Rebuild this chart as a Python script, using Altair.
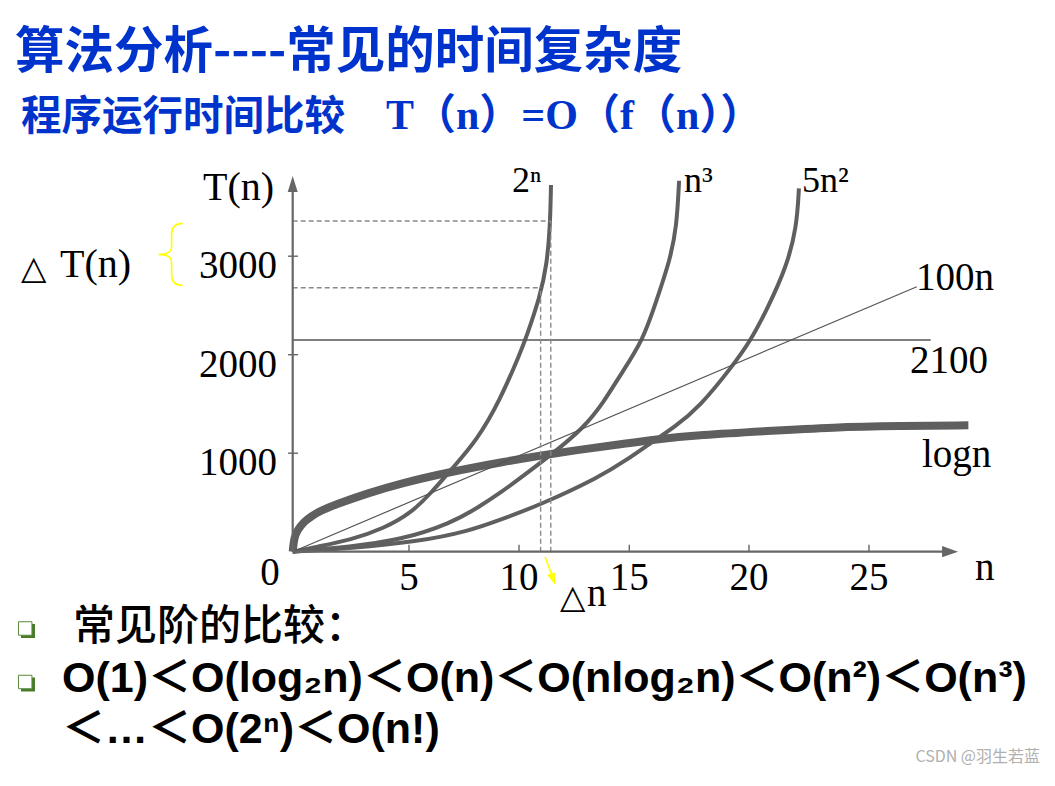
import altair as alt
import pandas as pd

# ---------------- values ----------------
x_ticks = [5, 10, 15, 20, 25]
x_tick_labels = ["5", "10", "15", "20", "25"]
y_ticks = [1000, 2000, 3000]
y_tick_labels = ["1000", "2000", "3000"]

curve_2n_x = [0, 1.06, 2.49, 3.93, 5.08, 5.99, 6.90, 8.10, 9.14, 10.05, 10.35, 10.95, 11.26, 11.41, 11.45]
curve_2n_y = [0, 51, 119, 237, 390, 593, 829, 1134, 1540, 2014, 2190, 2589, 2911, 3299, 3723]

curve_n3_x = [0, 2.49, 4.64, 6.90, 8.23, 9.32, 9.74, 11.55, 12.91, 13.82, 14.58, 15.58, 16.14, 16.70, 16.98, 17.08]
curve_n3_y = [0, 51, 119, 288, 460, 626, 694, 999, 1253, 1510, 1790, 2149, 2555, 2961, 3299, 3766]

curve_5n2_x = [0, 2.49, 5.38, 7.65, 9.32, 10.95, 13.67, 14.88, 16.07, 16.84, 17.95, 19.34, 20.04, 20.74, 21.57, 21.99, 22.08]
curve_5n2_y = [0, 35, 102, 203, 339, 474, 761, 931, 1134, 1256, 1472, 1895, 2132, 2454, 2893, 3299, 3689]

curve_logn_x = [0, 0.06, 0.20, 0.49, 0.77, 1.20, 1.78, 3.21, 4.64, 6.90, 9.32, 11.55, 14.58, 16.07, 17.95, 20.74, 23.51, 26.29, 29.14]
curve_logn_y = [0, 139, 220, 305, 355, 416, 474, 593, 694, 812, 914, 999, 1090, 1141, 1185, 1225, 1263, 1276, 1283]

line_100n_n = [0, 26.99]
line_100n_T = [0, 2690]

level_2100_T = 2149
level_2100_nend = 27.57

delta_T = [2680, 3357]      # dashed horizontal levels
delta_T_nend = [11.0, 11.45]
delta_n = [10.98, 11.44]    # dashed vertical positions

# ---------------- styling ----------------
GRAY = "#5f5f5f"
AXIS = "#666666"
BLUE = "#0033cc"
SERIF = "Liberation Serif, Times New Roman, serif"
SERIF_CJK = "Liberation Serif, Noto Sans CJK SC, serif"
CJK = "Noto Sans CJK SC, sans-serif"
SANS_CJK = "Liberation Sans, Noto Sans CJK SC, sans-serif"
DEJAVU = "DejaVu Sans"

W, H = 1037, 762
XS = alt.Scale(domain=[-12.24, 0, 5, 10, 15, 20, 25, 32.333],
               range=[0, 284.7, 401, 511, 621.3, 741, 861, 1037],
               nice=False, zero=False)
YS = alt.Scale(domain=[5519.80 - H / 0.0985, 5519.80], nice=False, zero=False)


def X(f):
    return alt.X(f, type="quantitative", scale=XS, axis=None)


def Y(f):
    return alt.Y(f, type="quantitative", scale=YS, axis=None)


layers = []

# --- curves ---
rows = []
for name, xs, ys in [("2n", curve_2n_x, curve_2n_y),
                     ("n3", curve_n3_x, curve_n3_y),
                     ("5n2", curve_5n2_x, curve_5n2_y)]:
    for a, b in zip(xs, ys):
        rows.append({"curve": name, "n": a, "T": b})
thin_df = pd.DataFrame(rows)
layers.append(alt.Chart(thin_df).mark_line(color=GRAY, strokeWidth=4, interpolate="basis")
              .encode(x=X("n"), y=Y("T"), detail="curve:N"))

logn_df = pd.DataFrame({"n": curve_logn_x, "T": curve_logn_y})
layers.append(alt.Chart(logn_df).mark_line(color=GRAY, strokeWidth=8, interpolate="basis", strokeCap="butt")
              .encode(x=X("n"), y=Y("T")))

# --- 100n straight line ---
df100 = pd.DataFrame({"n": [line_100n_n[0]], "T": [line_100n_T[0]],
                      "n2": [line_100n_n[1]], "T2": [line_100n_T[1]]})
layers.append(alt.Chart(df100).mark_rule(color="#555555", strokeWidth=1.2)
              .encode(x=X("n"), y=Y("T"), x2="n2", y2="T2"))

# --- 2100 level ---
df2100 = pd.DataFrame({"n": [0], "n2": [level_2100_nend], "T": [level_2100_T]})
layers.append(alt.Chart(df2100).mark_rule(color="#555555", strokeWidth=1.4)
              .encode(x=X("n"), x2="n2", y=Y("T")))

# --- dashed guides ---
dh = pd.DataFrame({"n": [0, 0], "n2": delta_T_nend, "T": delta_T})
layers.append(alt.Chart(dh).mark_rule(color="#8a8a8a", strokeWidth=1.4, strokeDash=[5, 3])
              .encode(x=X("n"), x2="n2", y=Y("T")))
dv = pd.DataFrame({"n": delta_n, "T": [0, 0], "T2": delta_T})
layers.append(alt.Chart(dv).mark_rule(color="#8a8a8a", strokeWidth=1.4, strokeDash=[5, 3])
              .encode(x=X("n"), y=Y("T"), y2="T2"))

# --- axes with arrows ---
ax_x = pd.DataFrame({"n": [0], "n2": [28.3], "T": [0]})
layers.append(alt.Chart(ax_x).mark_rule(color=AXIS, strokeWidth=2.2)
              .encode(x=X("n"), x2="n2", y=Y("T")))
ax_y = pd.DataFrame({"n": [0], "T": [0], "T2": [3700]})
layers.append(alt.Chart(ax_y).mark_rule(color=AXIS, strokeWidth=2.2)
              .encode(x=X("n"), y=Y("T"), y2="T2"))
layers.append(alt.Chart(pd.DataFrame({"n": [0], "T": [3814]}))
              .mark_point(shape="M0,0L0.625,2L-0.625,2Z", size=256, filled=True, color=AXIS, opacity=1, strokeWidth=0)
              .encode(x=X("n"), y=Y("T")))
layers.append(alt.Chart(pd.DataFrame({"n": [28.71], "T": [0]}))
              .mark_point(shape="M0,0L-2,-0.7L-2,0.7Z", size=256, filled=True, color=AXIS, opacity=1, strokeWidth=0)
              .encode(x=X("n"), y=Y("T")))

# --- ticks ---
xt = pd.DataFrame({"n": x_ticks, "T": [0] * len(x_ticks), "T2": [71] * len(x_ticks), "lab": x_tick_labels})
layers.append(alt.Chart(xt).mark_rule(color=AXIS, strokeWidth=1.4)
              .encode(x=X("n"), y=Y("T"), y2="T2"))
yt = pd.DataFrame({"T": y_ticks, "n": [-0.20] * len(y_ticks), "n2": [0.23] * len(y_ticks), "lab": y_tick_labels})
layers.append(alt.Chart(yt).mark_rule(color=AXIS, strokeWidth=1.4)
              .encode(x=X("n"), x2="n2", y=Y("T")))

# --- tick labels ---
layers.append(alt.Chart(xt).mark_text(font=SERIF, fontSize=39, align="center", baseline="alphabetic", color="black")
              .encode(x=X("n"), y=alt.value(590 - 8), text="lab:N"))
layers.append(alt.Chart(yt).mark_text(font=SERIF, fontSize=39, align="right", baseline="alphabetic", color="black", dy=22)
              .encode(x=alt.value(277 - 8), y=Y("T"), text="lab:N"))


# --- annotation texts (page coordinates) ---
def label(text, px, py, size, font=SERIF, color="black", weight="normal", align="left"):
    return (alt.Chart(alt.Data(values=[{}]))
            .mark_text(text=text, font=font, fontSize=size, color=color, fontWeight=weight,
                       align=align, baseline="alphabetic")
            .encode(x=alt.value(px - 8), y=alt.value(py - 8)))


annotations = [
    ("算法分析----常见的时间复杂度", 15, 68, 49.5, CJK, BLUE, "bold", "left"),
    ("程序运行时间比较", 21, 130, 40.5, CJK, BLUE, "bold", "left"),
    ("T（n）=O（f（n））", 386, 129, 42, SERIF_CJK, BLUE, "bold", "left"),
    ("T(n)", 203, 200, 40, SERIF, "black", "normal", "left"),
    ("0", 270, 585, 39, SERIF, "black", "normal", "center"),
    ("n", 975, 580, 39, SERIF, "black", "normal", "left"),
    ("2ⁿ", 512, 192, 36, SERIF, "black", "normal", "left"),
    ("n³", 684, 192, 36, SERIF, "black", "normal", "left"),
    ("5n²", 802, 192, 36, SERIF, "black", "normal", "left"),
    ("100n", 916, 290, 39, SERIF, "black", "normal", "left"),
    ("2100", 910, 373, 39, SERIF, "black", "normal", "left"),
    ("logn", 922, 467, 39, SERIF, "black", "normal", "left"),
    ("△", 21, 279, 33, DEJAVU, "black", "normal", "left"),
    ("T(n)", 60, 277, 40, SERIF, "black", "normal", "left"),
    ("△", 560, 608, 33, DEJAVU, "black", "normal", "left"),
    ("n", 587, 606, 39, SERIF, "black", "normal", "left"),
    ("常见阶的比较：", 73, 640, 42, CJK, "black", 500, "left"),
    ("O(1)＜O(log₂n)＜O(n)＜O(nlog₂n)＜O(n²)＜O(n³)", 62, 692, 43, SANS_CJK, "black", "bold", "left"),
    ("＜…＜O(2ⁿ)＜O(n!)", 62, 743, 43, SANS_CJK, "black", "bold", "left"),
    ("CSDN @羽生若蓝", 1040, 762, 16, CJK, "#b0b0b0", "normal", "right"),
]
for t, px, py, s, f, c, w, a in annotations:
    layers.append(label(t, px, py, s, f, c, w, a))

# --- yellow brace marking ΔT and yellow arrow marking Δn ---
BRACE = "M12,-31Q1,-31 1,-20L1,-8Q1,0 -12,0Q1,0 1,8L1,20Q1,31 12,31"
layers.append(alt.Chart(pd.DataFrame({"n": [-5.25], "T": [sum(delta_T) / 2]}))
              .mark_point(shape=BRACE, size=4, filled=False, color="#ffff00", strokeWidth=1.6, opacity=1)
              .encode(x=X("n"), y=Y("T")))
layers.append(alt.Chart(pd.DataFrame({"n": [11.18], "T": [-54], "n2": [11.55], "T2": [-267]}))
              .mark_rule(color="#ffff00", strokeWidth=1.6)
              .encode(x=X("n"), y=Y("T"), x2="n2", y2="T2"))
layers.append(alt.Chart(pd.DataFrame({"n": [11.64], "T": [-338]}))
              .mark_point(shape="M0,0L-4,-12L4,-12Z", size=4, filled=True, color="#ffff00", angle=340,
                          opacity=1, strokeWidth=0)
              .encode(x=X("n"), y=Y("T")))


# --- bullets (shadowed squares) ---
def bullet(cx, cy):
    shadow = (alt.Chart(alt.Data(values=[{}]))
              .mark_point(shape="square", size=196, filled=True, color="#4a7a2a", opacity=1, strokeWidth=0)
              .encode(x=alt.value(cx + 2.8 - 8), y=alt.value(cy + 2.5 - 8)))
    face = (alt.Chart(alt.Data(values=[{}]))
            .mark_point(shape="square", size=182, filled=True, fill="white", stroke="#5a8a3a",
                        strokeWidth=1, opacity=1)
            .encode(x=alt.value(cx - 8), y=alt.value(cy - 8)))
    return [shadow, face]


layers += bullet(25.2, 628.5)
layers += bullet(25.2, 682)

chart = (alt.layer(*layers)
         .properties(width=W, height=H, autosize=alt.AutoSizeParams(type="none"), padding=0,
                     background="white")
         .configure_view(stroke=None))

chart.save("out.html", embed_options={"renderer": "svg", "actions": False})
